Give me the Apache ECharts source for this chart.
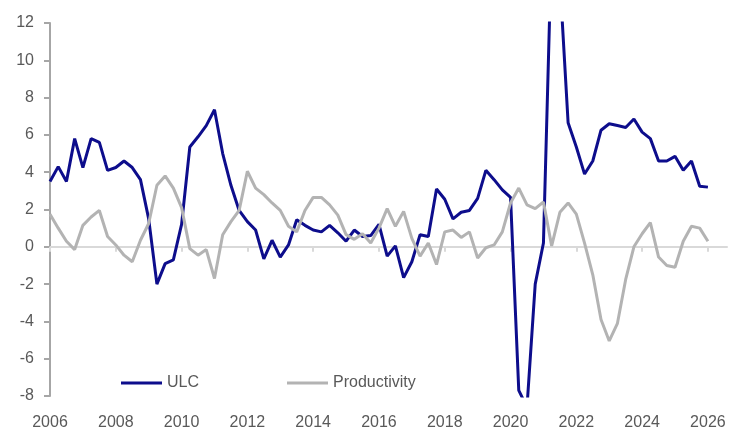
<!DOCTYPE html>
<html><head><meta charset="utf-8">
<script src="https://cdn.jsdelivr.net/npm/echarts@6/dist/echarts.min.js"></script>
<style>html,body{margin:0;padding:0;background:#fff}#c{width:750px;height:435px}</style>
</head><body><div id="c"></div>
<script>
// Quarterly periods 2006Q1 .. 2026Q1
const quarters = [];
for (let y = 2006; y <= 2026; y++) {
  for (let q = 1; q <= 4; q++) {
    if (y === 2026 && q > 1) break;
    quarters.push(y + 'Q' + q);
  }
}

const ulc = [
  3.5, 4.3, 3.5, 5.8, 4.25, 5.8, 5.6, 4.1,
  4.25, 4.6, 4.25, 3.6, 1.5, -2.0, -0.9, -0.7,
  1.2, 5.35, 5.9, 6.5, 7.35, 5.0, 3.3, 1.95,
  1.35, 0.9, -0.65, 0.35, -0.55, 0.1, 1.45, 1.15,
  0.9, 0.8, 1.15, 0.75, 0.3, 0.9, 0.55, 0.6,
  1.2, -0.5, 0.05, -1.65, -0.8, 0.65, 0.55, 3.1,
  2.55, 1.5, 1.85, 1.95, 2.6, 4.1, 3.6, 3.05,
  2.65, -7.7, -8.6, -2.0, 0.2, 16.4, 14.3, 6.65,
  5.35, 3.9, 4.6, 6.25, 6.6, 6.5, 6.4, 6.85,
  6.15, 5.8, 4.6, 4.6, 4.85, 4.1, 4.6, 3.25,
  3.2
];

const productivity = [
  1.75, 1.0, 0.3, -0.15, 1.15, 1.6, 1.95, 0.55,
  0.1, -0.45, -0.8, 0.35, 1.25, 3.3, 3.8, 3.15,
  2.1, -0.1, -0.45, -0.15, -1.7, 0.65, 1.35, 1.95,
  4.05, 3.15, 2.8, 2.35, 1.95, 1.1, 0.8, 1.95,
  2.65, 2.65, 2.25, 1.7, 0.65, 0.4, 0.7, 0.2,
  1.0, 2.05, 1.1, 1.9, 0.45, -0.5, 0.2, -0.95,
  0.8, 0.9, 0.5, 0.8, -0.6, -0.05, 0.1, 0.8,
  2.35, 3.15, 2.25, 2.05, 2.4, 0.05, 1.85, 2.35,
  1.75, 0.2, -1.5, -3.9, -5.05, -4.1, -1.75, 0.0,
  0.7, 1.3, -0.55, -1.0, -1.1, 0.3, 1.1, 1.0,
  0.3
];

const yearTicks = [2006, 2008, 2010, 2012, 2014, 2016, 2018, 2020, 2022, 2024, 2026];

function qToX(q) { return Number(q.slice(0, 4)) + (Number(q.slice(5)) - 1) / 4; }
const ulcData = quarters.map((q, i) => [qToX(q), ulc[i]]);
const prodData = quarters.map((q, i) => [qToX(q), productivity[i]]);

const FONT = 'Liberation Sans';
const chart = echarts.init(document.getElementById('c'), null, { renderer: 'canvas' });
chart.setOption({
  animation: false,
  backgroundColor: '#ffffff',
  grid: { left: 50, right: 23, top: 23, bottom: 39, containLabel: false },
  xAxis: [
    {
      type: 'value', min: 2006, max: 2026.58, position: 'bottom',
      axisLine: { show: false, onZero: false },
      axisTick: { show: false },
      splitLine: { show: false },
      axisLabel: {
        customValues: yearTicks, color: '#595959', fontSize: 16, fontFamily: FONT,
        margin: 19, formatter: v => String(v)
      }
    },
    {
      type: 'value', min: 2006, max: 2026.58, position: 'bottom',
      axisLine: { show: true, onZero: true, lineStyle: { color: '#d9d9d9', width: 2 } },
      axisTick: { show: true, customValues: yearTicks, length: 5, lineStyle: { color: '#d9d9d9', width: 2 } },
      axisLabel: { show: false },
      splitLine: { show: false }
    }
  ],
  yAxis: {
    type: 'value', min: -8, max: 12, interval: 2,
    axisLine: { show: true, onZero: false, lineStyle: { color: '#a6a6a6', width: 2 } },
    axisTick: { show: true, length: 6, lineStyle: { color: '#a6a6a6', width: 2 } },
    splitLine: { show: false },
    axisLabel: { color: '#595959', fontSize: 16, fontFamily: FONT, margin: 16 }
  },
  legend: [
    {
      data: [{ name: 'ULC', icon: 'rect' }], left: 116, top: 370, itemWidth: 41, itemHeight: 3, itemGap: 5,
      textStyle: { color: '#595959', fontSize: 16, fontFamily: FONT }
    },
    {
      data: [{ name: 'Productivity', icon: 'rect' }], left: 282, top: 370, itemWidth: 41, itemHeight: 3, itemGap: 5,
      textStyle: { color: '#595959', fontSize: 16, fontFamily: FONT }
    }
  ],
  series: [
    {
      name: 'ULC', type: 'line', xAxisIndex: 0, data: ulcData, symbol: 'none',
      lineStyle: { color: '#0d0d8c', width: 3 }, itemStyle: { color: '#0d0d8c' }, clip: true
    },
    {
      name: 'Productivity', type: 'line', xAxisIndex: 0, data: prodData, symbol: 'none',
      lineStyle: { color: '#b3b3b3', width: 3 }, itemStyle: { color: '#b3b3b3' }, clip: true
    }
  ]
});
</script>
</body></html>
